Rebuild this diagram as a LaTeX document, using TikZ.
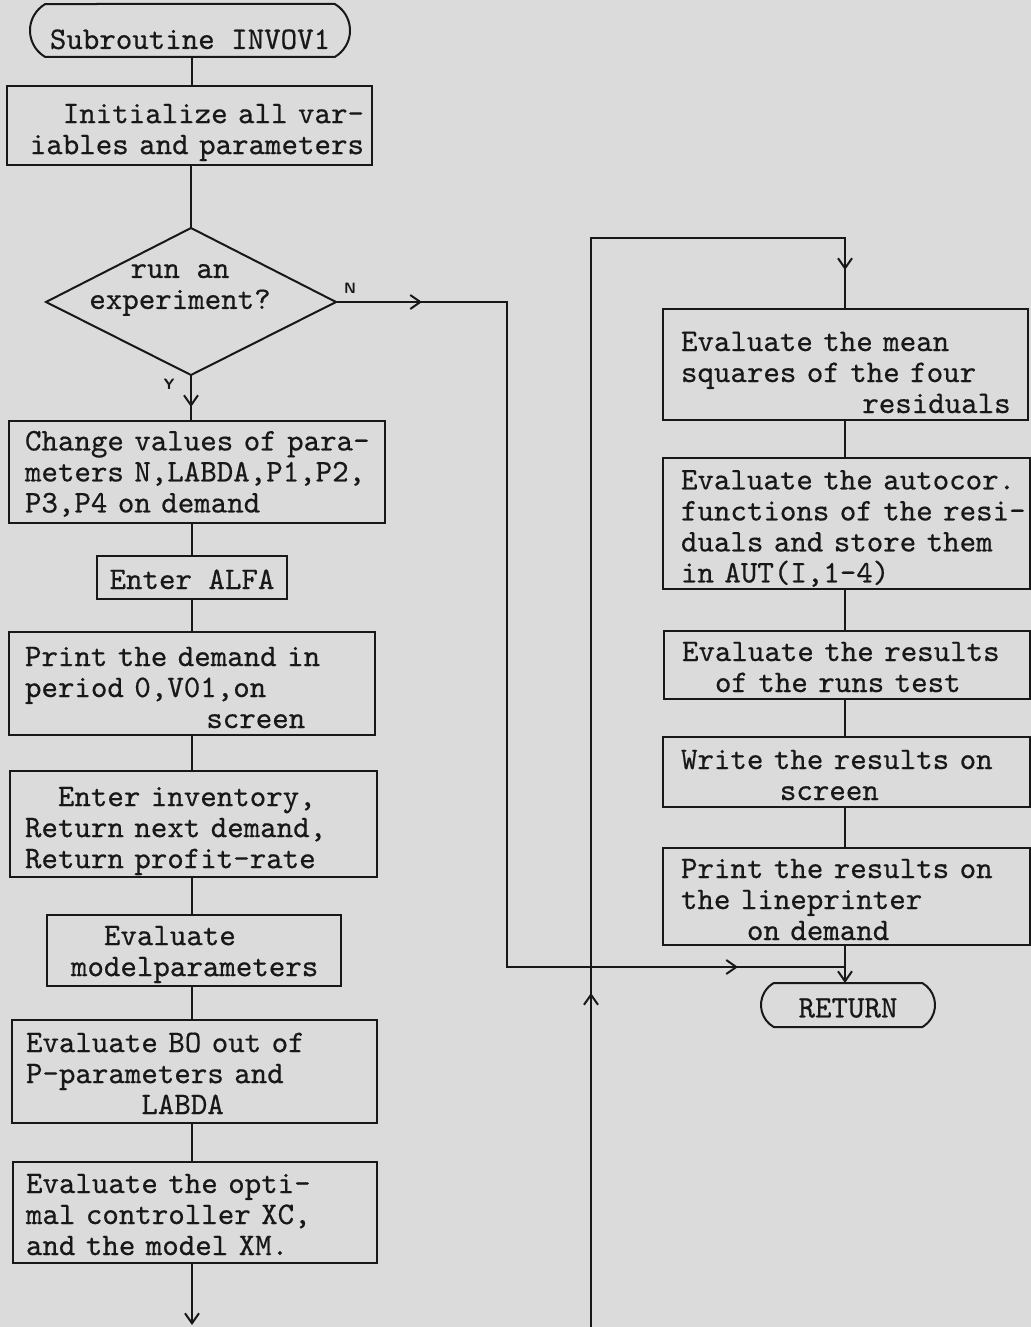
\documentclass[tikz,border=0pt]{standalone}
\usepackage{fontspec}
\newfontfamily\typew{lmmono10-regular.otf}[FakeBold=0.5]
\usetikzlibrary{arrows.meta,shapes.misc}
\definecolor{paper}{RGB}{219,219,219}
\definecolor{ink}{RGB}{24,24,24}
\newcommand\twfont{\fontsize{15.7}{15.5}\selectfont\typew\frenchspacing\spaceskip=\fontcharwd\font`x\relax}
\tikzset{
  tw/.style={font=\twfont, text=ink},
  pbox/.style={tw, draw=ink, line width=1pt, inner sep=0pt, outer sep=0pt, rectangle},
  term/.style={tw, draw=ink, line width=1pt, rounded rectangle, rounded rectangle arc length=120, inner sep=0pt, outer sep=0pt},
  conn/.style={draw=ink, line width=1pt},
  arr/.style={conn, -{Straight Barb[length=5pt,width=7pt,line width=1pt]}},
  lbl/.style={font=\fontsize{7.5}{8}\selectfont\sffamily\bfseries, text=ink, inner sep=0pt},
  lower/.style={text height=#1},
}
\begin{document}
\begin{tikzpicture}[x=0.5pt,y=-0.5pt]
\fill[paper] (0,0) rectangle (1031,1327);
\useasboundingbox (0,0) rectangle (1031,1327);

\coordinate (colL) at (192,0);
\coordinate (colR) at (845,0);

% left column
\node[term, minimum width=160pt, minimum height=26.5pt, lower=18.6pt] (start) at (190,30.5) {Subroutine INVOV1};
\node[pbox, minimum width=182.5pt, minimum height=39.5pt, text width=174.5pt, align=right, lower=16.6pt] (init) at (189.5,125.5) {Initialize all var-\\iables and parameters};

\coordinate (dT) at (191,228);
\coordinate (dR) at (336,302);
\coordinate (dB) at (191,375);
\coordinate (dL) at (46,302);
\draw[conn, line join=miter] (dT) -- (dR) -- (dB) -- (dL) -- cycle;
\node[tw, align=center, inner sep=0pt] (dec) at (180,290) {run an\\experiment?};
\node[lbl] (nlab) at (350,288) {N};
\node[lbl] (ylab) at (169,384) {Y};

\node[pbox, minimum width=188pt, minimum height=51pt, text width=172pt, align=left, lower=11.6pt] (change) at (197,472) {\mbox{Change values of para-}\\meters N,LABDA,P1,P2,\\P3,P4 on demand};
\node[pbox, minimum width=95pt, minimum height=21.5pt, lower=11.6pt] (alfa) at (192,577.5) {Enter ALFA};
\node[pbox, minimum width=183pt, minimum height=51.5pt, text width=167pt, align=left, lower=13.6pt] (prt) at (192,683.5) {Print the demand in\\period 0,V01,on\\\phantom{xxxxxxxxxxx}screen};
\node[pbox, minimum width=183.5pt, minimum height=53pt, text width=168.5pt, align=left, lower=16.6pt] (inv) at (193.5,824) {\phantom{xx}Enter inventory,\\Return next demand,\\Return profit-rate};
\node[pbox, minimum width=147pt, minimum height=35.5pt, text width=123pt, align=left, lower=13.6pt] (model) at (194,950.5) {\phantom{xx}Evaluate\\modelparameters};
\node[pbox, minimum width=182.5pt, minimum height=51.5pt, text width=168.5pt, align=left, lower=11.6pt] (bo) at (194.5,1071.5) {Evaluate BO out of\\P-parameters and\\\phantom{xxxxxxx}LABDA};
\node[pbox, minimum width=182pt, minimum height=50.5pt, text width=169pt, align=left, lower=11.6pt] (opti) at (195,1212.5) {Evaluate the opti-\\mal controller XC,\\and the model XM.};
\coordinate (outL) at (192,1325);

% right column
\node[pbox, minimum width=182.5pt, minimum height=55.5pt, text width=164.5pt, align=left, lower=17.6pt] (mean) at (845.5,364.5) {Evaluate the mean\\squares of the four\\\phantom{xxxxxxxxxxx}residuals};
\node[pbox, minimum width=183.5pt, minimum height=65.5pt, text width=165.5pt, align=left, lower=14.6pt] (auto) at (846.5,523.5) {\mbox{Evaluate the autocor.}\\\mbox{functions of the resi-}\\duals and store them\\in AUT(I,1-4)};
\node[pbox, minimum width=183pt, minimum height=34pt, text width=165pt, align=left, lower=11.6pt] (runs) at (847,665) {Evaluate the results\\\phantom{xx}of the runs test};
\node[pbox, minimum width=183.5pt, minimum height=35pt, text width=165.5pt, align=left, lower=12.6pt] (write) at (846.5,772) {Write the results on\\\phantom{xxxxxx}screen};
\node[pbox, minimum width=183.5pt, minimum height=48.5pt, text width=165.5pt, align=left, lower=12.6pt] (prres) at (846.5,896.5) {Print the results on\\the lineprinter\\\phantom{xxxx}on demand};
\node[term, minimum width=87pt, minimum height=22pt, lower=12.6pt] (ret) at (848,1005) {RETURN};

% left connectors
\draw[conn] (colL |- start.south) -- (colL |- init.north);
\draw[conn] (dT |- init.south) -- (dT);
\coordinate (yTip) at (191,407);
\draw[conn] (dB) -- (dB |- change.north);
\draw[arr] (dB) -- (yTip);
\draw[conn] (colL |- change.south) -- (colL |- alfa.north);
\draw[conn] (colL |- alfa.south) -- (colL |- prt.north);
\draw[conn] (colL |- prt.south) -- (colL |- inv.north);
\draw[conn] (colL |- inv.south) -- (colL |- model.north);
\draw[conn] (colL |- model.south) -- (colL |- bo.north);
\draw[conn] (colL |- bo.south) -- (colL |- opti.north);
\draw[arr] (colL |- opti.south) -- (outL);

% N branch
\coordinate (nTip) at (422,302);
\coordinate (nC1) at (507,302);
\coordinate (nC2) at (507,967);
\coordinate (nTip2) at (738,967);
\coordinate (jn) at (845,967);
\draw[conn] (dR) -- (nC1) -- (nC2) -- (jn);
\draw[arr] (dR) -- (nTip);
\draw[arr] (nC2) -- (nTip2);

% right connectors
\draw[conn] (colR |- mean.south) -- (colR |- auto.north);
\draw[conn] (colR |- auto.south) -- (colR |- runs.north);
\draw[conn] (colR |- runs.south) -- (colR |- write.north);
\draw[conn] (colR |- write.south) -- (colR |- prres.north);
\draw[conn] (colR |- prres.south) -- (jn);
\draw[arr] (jn) -- (jn |- ret.north);

% loop line
\coordinate (lpB) at (591,1327);
\coordinate (lpTip) at (591,993);
\coordinate (lpT) at (591,238);
\coordinate (lpR) at (845,238);
\coordinate (lpTip2) at (845,270);
\draw[conn] (lpB) -- (lpT) -- (lpR) -- (lpR |- mean.north);
\draw[arr] (lpB) -- (lpTip);
\draw[arr] (lpR) -- (lpTip2);
\end{tikzpicture}
\end{document}
